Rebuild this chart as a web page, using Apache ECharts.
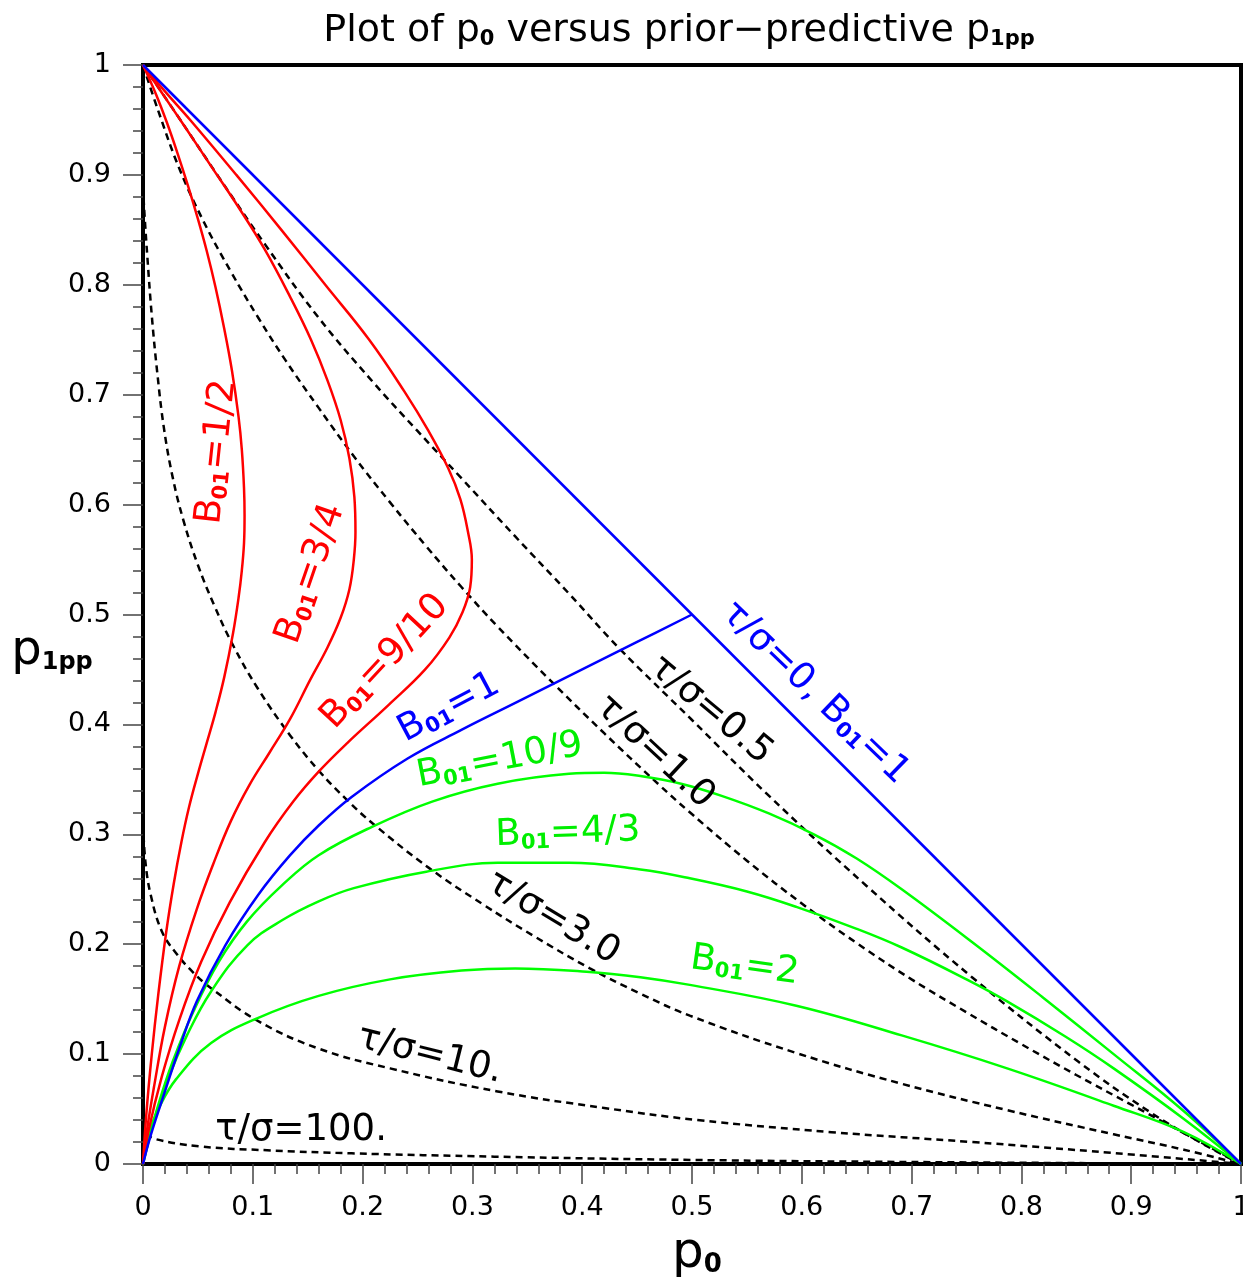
<!DOCTYPE html>
<html><head><meta charset="utf-8">
<script src="https://cdn.jsdelivr.net/npm/echarts/dist/echarts.min.js"></script>
<style>html,body{margin:0;padding:0;background:#fff}#c{width:1243px;height:1282px}</style>
</head><body><div id="c"></div><script>
// ---- data: [p0, p1pp] pairs ----
const diagTau0 = [[0,1],[1,0]];
const b01_1 = [[0,0],[0.007,0.026],[0.017,0.057],[0.033,0.105],[0.049,0.148],[0.075,0.199],[0.105,0.245],[0.134,0.281],[0.160,0.308],[0.190,0.334],[0.241,0.369],[0.290,0.395],[0.340,0.420],[0.400,0.450],[0.450,0.475],[0.5,0.5]];
const b01_half = [[0,1],[0.012,0.973],[0.022,0.947],[0.031,0.921],[0.041,0.890],[0.050,0.860],[0.058,0.831],[0.066,0.798],[0.074,0.760],[0.081,0.722],[0.087,0.680],[0.090,0.650],[0.092,0.615],[0.0925,0.590],[0.092,0.565],[0.090,0.540],[0.087,0.515],[0.082,0.483],[0.074,0.443],[0.066,0.411],[0.058,0.383],[0.050,0.355],[0.042,0.325],[0.035,0.293],[0.028,0.255],[0.021,0.210],[0.014,0.155],[0.008,0.100],[0.003,0.045],[0,0]];
const b01_3q = [[0,1],[0.017,0.975],[0.036,0.947],[0.062,0.908],[0.088,0.869],[0.111,0.832],[0.134,0.789],[0.153,0.750],[0.168,0.713],[0.180,0.677],[0.188,0.642],[0.1925,0.607],[0.1935,0.575],[0.192,0.550],[0.188,0.523],[0.180,0.497],[0.168,0.470],[0.152,0.440],[0.134,0.405],[0.115,0.374],[0.097,0.345],[0.080,0.312],[0.064,0.273],[0.049,0.232],[0.033,0.180],[0.020,0.125],[0.010,0.070],[0.004,0.033],[0,0]];
const b01_9_10 = [[0,1],[0.020,0.976],[0.043,0.950],[0.085,0.900],[0.126,0.850],[0.166,0.800],[0.206,0.750],[0.238,0.703],[0.260,0.667],[0.278,0.633],[0.289,0.605],[0.296,0.575],[0.2995,0.550],[0.298,0.525],[0.291,0.502],[0.279,0.479],[0.257,0.450],[0.224,0.418],[0.186,0.383],[0.160,0.357],[0.137,0.330],[0.111,0.293],[0.079,0.238],[0.053,0.184],[0.033,0.131],[0.017,0.079],[0.005,0.030],[0,0]];
const b01_10_9 = [[0,0],[0.004,0.017],[0.014,0.054],[0.027,0.093],[0.046,0.139],[0.069,0.184],[0.095,0.221],[0.127,0.254],[0.160,0.281],[0.209,0.307],[0.264,0.330],[0.323,0.346],[0.388,0.355],[0.420,0.356],[0.453,0.353],[0.490,0.346],[0.527,0.335],[0.570,0.319],[0.611,0.300],[0.650,0.278],[0.691,0.250],[0.755,0.202],[0.819,0.152],[0.884,0.100],[0.948,0.048],[1,0]];
const b01_4_3 = [[0,0],[0.010,0.039],[0.023,0.078],[0.040,0.117],[0.062,0.157],[0.095,0.199],[0.127,0.222],[0.160,0.239],[0.192,0.251],[0.258,0.266],[0.323,0.274],[0.388,0.274],[0.453,0.268],[0.498,0.260],[0.550,0.248],[0.595,0.234],[0.650,0.214],[0.691,0.197],[0.750,0.168],[0.787,0.148],[0.840,0.116],[0.884,0.087],[0.948,0.041],[1,0]];
const b01_2 = [[0,0],[0.005,0.027],[0.015,0.052],[0.030,0.077],[0.062,0.110],[0.105,0.133],[0.160,0.153],[0.225,0.168],[0.290,0.176],[0.339,0.178],[0.404,0.175],[0.453,0.170],[0.498,0.163],[0.595,0.144],[0.691,0.117],[0.787,0.087],[0.884,0.053],[0.948,0.029],[1,0]];
const tau05 = [[0,1],[0.030,0.956],[0.069,0.898],[0.111,0.837],[0.160,0.770],[0.209,0.712],[0.250,0.667],[0.290,0.624],[0.339,0.571],[0.388,0.519],[0.433,0.470],[0.500,0.404],[0.568,0.337],[0.659,0.253],[0.755,0.170],[0.852,0.093],[0.916,0.048],[0.964,0.019],[1,0]];
const tau1 = [[0,1],[0.014,0.958],[0.033,0.906],[0.055,0.858],[0.080,0.812],[0.105,0.770],[0.130,0.731],[0.160,0.688],[0.192,0.644],[0.225,0.602],[0.258,0.562],[0.290,0.525],[0.323,0.489],[0.371,0.440],[0.420,0.392],[0.469,0.346],[0.498,0.320],[0.550,0.276],[0.600,0.237],[0.650,0.201],[0.700,0.168],[0.750,0.138],[0.800,0.109],[0.850,0.081],[0.900,0.054],[0.950,0.027],[1,0]];
const tau3 = [[0,0.89],[0.001,0.870],[0.004,0.825],[0.008,0.772],[0.013,0.720],[0.019,0.670],[0.027,0.625],[0.037,0.585],[0.050,0.545],[0.065,0.508],[0.082,0.472],[0.105,0.432],[0.134,0.390],[0.160,0.358],[0.185,0.332],[0.209,0.310],[0.261,0.269],[0.310,0.236],[0.355,0.208],[0.407,0.178],[0.453,0.155],[0.498,0.135],[0.595,0.101],[0.691,0.073],[0.787,0.049],[0.884,0.027],[0.948,0.013],[1,0]];
const tau10 = [[0,0.31],[0.0022,0.275],[0.007,0.245],[0.017,0.212],[0.030,0.192],[0.046,0.174],[0.062,0.160],[0.105,0.130],[0.160,0.105],[0.225,0.087],[0.323,0.066],[0.420,0.051],[0.505,0.040],[0.627,0.029],[0.755,0.020],[0.884,0.010],[1,0]];
const tau100 = [[0.003,0.028],[0.010,0.023],[0.052,0.016],[0.113,0.0125],[0.190,0.0097],[0.320,0.0067],[0.500,0.0037],[0.700,0.0018],[1,0]];

// ---- label texts and anchors (data coords) ----
const labels = [
  {t:'{b|B}{s|01}{b|=1/2}', c:'#ff0000', at:[0.0674,0.648], rot:84},
  {t:'{b|B}{s|01}{b|=3/4}', c:'#ff0000', at:[0.153,0.537], rot:71},
  {t:'{b|B}{s|01}{b|=9/10}', c:'#ff0000', at:[0.2204,0.457], rot:47},
  {t:'{b|B}{s|01}{b|=1}', c:'#0000ff', at:[0.2787,0.415], rot:28},
  {t:'{b|B}{s|01}{b|=10/9}', c:'#00ee00', at:[0.325,0.367], rot:11},
  {t:'{b|B}{s|01}{b|=4/3}', c:'#00ee00', at:[0.387,0.301], rot:2},
  {t:'{b|B}{s|01}{b|=2}', c:'#00ee00', at:[0.548,0.180], rot:-8},
  {t:'{b|τ/σ=0.5}', c:'#000', at:[0.517,0.413], rot:-40},
  {t:'{b|τ/σ=1.0}', c:'#000', at:[0.466,0.375], rot:-43},
  {t:'{b|τ/σ=0, B}{s|01}{b|=1}', c:'#0000ff', at:[0.612,0.4286], rot:-44},
  {t:'{b|τ/σ=3.0}', c:'#000', at:[0.3734,0.2238], rot:-31},
  {t:'{b|τ/σ=10.}', c:'#000', at:[0.2614,0.0992], rot:-14},
  {t:'{b|τ/σ=100.}', c:'#000', at:[0.144,0.031], rot:0}
];

const FONT = 'DejaVu Sans';
const dash = [7,5];
function ln(name, data, color, type, w) {
  return {name, type:'line', data, showSymbol:false, smooth:0.4, silent:true,
    lineStyle:{color, width:w||2.5, type:type||'solid'}, z: type ? 2 : 3};
}
const chart = echarts.init(document.getElementById('c'), null, {renderer:'canvas'});
const axisCommon = {
  type:'value', min:0, max:1, interval:0.1,
  axisLine:{show:true, onZero:false, lineStyle:{color:'#000', width:4}},
  axisTick:{show:true, length:20, lineStyle:{color:'#444', width:1.5}},
  minorTick:{show:true, splitNumber:5, length:10, lineStyle:{color:'#444', width:1.5}},
  splitLine:{show:false},
  axisLabel:{fontSize:27, fontFamily:FONT, color:'#000',
    formatter: v => (v===0?'0':(v===1?'1':v.toFixed(1)))}
};
chart.setOption({
  animation:false,
  backgroundColor:'#fff',
  grid:{left:143, right:2, top:65, bottom:118, containLabel:false, outerBoundsMode:'none',
        show:true, borderColor:'#000', borderWidth:4, backgroundColor:'transparent'},
  xAxis: Object.assign({}, axisCommon, {axisLabel:Object.assign({}, axisCommon.axisLabel, {margin:30})}),
  yAxis: Object.assign({}, axisCommon, {axisLabel:Object.assign({}, axisCommon.axisLabel, {margin:32})}),
  series:[
    ln('tau100', tau100, '#000', dash),
    ln('tau10', tau10, '#000', dash),
    ln('tau3', tau3, '#000', dash),
    ln('tau1', tau1, '#000', dash),
    ln('tau05', tau05, '#000', dash),
    ln('b2', b01_2, '#00ff00'),
    ln('b43', b01_4_3, '#00ff00'),
    ln('b109', b01_10_9, '#00ff00'),
    ln('bhalf', b01_half, '#ff0000'),
    ln('b3q', b01_3q, '#ff0000'),
    ln('b910', b01_9_10, '#ff0000'),
    ln('b1', b01_1, '#0000ff'),
    ln('diag', diagTau0, '#0000ff')
  ]
});

function richFor(color, big, small) {
  return {
    b:{fontSize:big, fontFamily:FONT, fill:color, color:color},
    s:{fontSize:small, fontFamily:FONT, fontWeight:'bold', fill:color, color:color, padding:[Math.round(big*0.45),0,0,0]},
    t:{fontSize:big, fontFamily:FONT, fill:color, color:color}
  };
}
const g = [];
labels.forEach(L => {
  const p = chart.convertToPixel({gridIndex:0}, L.at);
  g.push({type:'text', x:p[0], y:p[1], rotation:L.rot*Math.PI/180, silent:true, z:10,
    style:{text:L.t, rich:richFor(L.c, 37, 21), fill:L.c, align:'center', verticalAlign:'middle'}});
});
// title and axis names
g.push({type:'text', x:679, y:31, silent:true,
  style:{text:'{t|Plot of p}{s|0}{t| versus prior\u2212predictive p}{s|1pp}', rich:richFor('#000', 38, 21), align:'center', verticalAlign:'middle'}});
g.push({type:'text', x:697, y:1254, silent:true,
  style:{text:'{t|p}{s|0}', rich:richFor('#000', 50, 26), align:'center', verticalAlign:'middle'}});
g.push({type:'text', x:52, y:652, silent:true,
  style:{text:'{t|p}{s|1pp}', rich:richFor('#000', 48, 24), align:'center', verticalAlign:'middle'}});
chart.setOption({graphic:g});
</script></body></html>
